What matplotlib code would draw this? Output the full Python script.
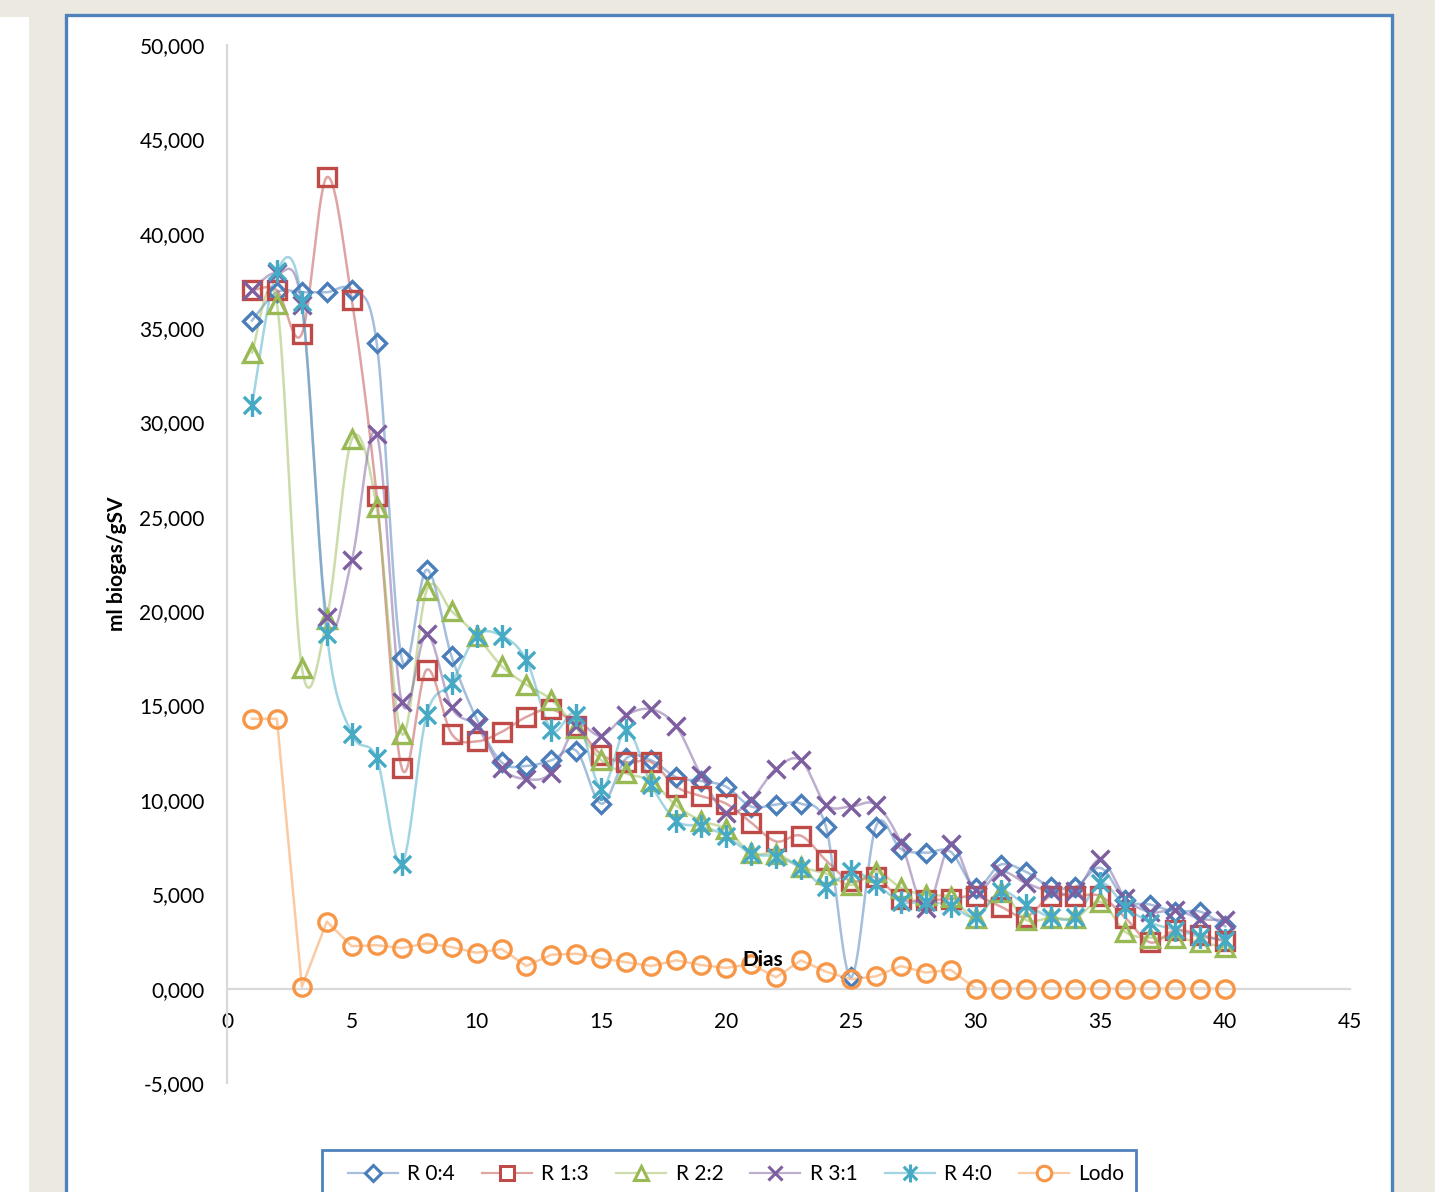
import numpy as np
import matplotlib
matplotlib.use("Agg")
import matplotlib.pyplot as plt
from matplotlib.path import Path
from matplotlib.patches import Rectangle
from matplotlib.lines import Line2D
from matplotlib.ticker import FixedLocator, FuncFormatter

plt.rcParams['font.family'] = ['Lato', 'DejaVu Sans']

# ---- data: daily biogas yield (ml biogas / gSV) ----
days = list(range(1, 41))

r_0_4 = [35400, 36900, 36900, 36900, 37000, 34200, 17500, 22200, 17600, 14300,
         12000, 11800, 12100, 12600, 9800, 12200, 12100, 11200, 11000, 10700,
         9650, 9750, 9800, 8580, 600, 8580, 7400, 7200, 7250, 5350,
         6570, 6200, 5400, 5400, 6400, 4700, 4450, 4080, 4080, 3300]

r_1_3 = [37000, 37000, 34700, 43000, 36500, 26100, 11700, 16900, 13500, 13100,
         13600, 14400, 14800, 13900, 12400, 12000, 12000, 10700, 10200, 9800,
         8800, 7800, 8100, 6800, 5700, 5900, 4750, 4700, 4750, 4900,
         4350, 3800, 4900, 4900, 4900, 3750, 2450, 3100, 2850, 2500]

r_2_2 = [33700, 36300, 17000, 19600, 29100, 25500, 13500, 21100, 20000, 18700,
         17100, 16100, 15300, 13800, 12100, 11400, 11000, 9700, 8900, 8450,
         7200, 7150, 6450, 6100, 5500, 6200, 5350, 4950, 4850, 3750,
         5100, 3650, 3750, 3750, 4600, 3000, 2700, 2700, 2450, 2200]

r_3_1 = [37000, 37900, 36200, 19700, 22700, 29400, 15200, 18800, 14900, 13900,
         11700, 11100, 11450, 13900, 13400, 14500, 14800, 13900, 11300, 9300,
         10000, 11650, 12100, 9750, 9650, 9750, 7750, 4250, 7650, 5200,
         6200, 5600, 5150, 5150, 6850, 4820, 4050, 4180, 3700, 3650]

r_4_0 = [30900, 38000, 36400, 18800, 13500, 12200, 6600, 14500, 16200, 18700,
         18700, 17400, 13700, 14500, 10600, 13700, 10800, 8900, 8600, 8100,
         7150, 7000, 6400, 5400, 6250, 5550, 4600, 4600, 4400, 3800,
         5150, 4450, 3800, 3800, 5600, 4350, 3500, 3130, 2760, 2600]

lodo = [14300, 14300, 100, 3550, 2250, 2300, 2150, 2400, 2200, 1900,
        2100, 1200, 1800, 1850, 1600, 1400, 1200, 1500, 1250, 1100,
        1300, 600, 1500, 900, 500, 650, 1200, 850, 1000, 0,
        0, 0, 0, 0, 0, 0, 0, 0, 0, 0]

series_names = ["R 0:4", "R 1:3", "R 2:2", "R 3:1", "R 4:0", "Lodo"]
x_ticks = [0, 5, 10, 15, 20, 25, 30, 35, 40, 45]
y_ticks = [-5000, 0, 5000, 10000, 15000, 20000, 25000, 30000, 35000, 40000, 45000, 50000]

# ---- styling ----
BEIGE = "#ECEAE0"
FRAME_BLUE = "#4F81BD"
colors = ["#4A7EBB", "#BE4B48", "#98B954", "#7D5FA0", "#46AAC5", "#F79646"]

star = Path([(0, -1), (0, 1), (-0.75, -0.75), (0.75, 0.75), (-0.75, 0.75), (0.75, -0.75)],
            [Path.MOVETO, Path.LINETO, Path.MOVETO, Path.LINETO, Path.MOVETO, Path.LINETO])
markers = ["D", "s", "^", "x", star, "o"]
msizes = [9.5, 12.5, 12.5, 12.5, 16.5, 12.5]
leg_msizes = [8, 10.5, 10.5, 10.5, 13, 10.5]
smooth_flags = [True, True, True, True, True, False]


def bezier_smooth(x, y, n=20):
    """Smoothed path through the points (cardinal Bezier, tension 1/6)."""
    x = np.asarray(x, float)
    y = np.asarray(y, float)
    px = np.concatenate([[x[0]], x, [x[-1]]])
    py = np.concatenate([[y[0]], y, [y[-1]]])
    t = np.linspace(0, 1, n + 1)[1:]
    xs, ys = [x[0]], [y[0]]
    for i in range(len(x) - 1):
        p0 = np.array([px[i], py[i]])
        p1 = np.array([px[i + 1], py[i + 1]])
        p2 = np.array([px[i + 2], py[i + 2]])
        p3 = np.array([px[i + 3], py[i + 3]])
        c1 = p1 + (p2 - p0) / 6.0
        c2 = p2 - (p3 - p1) / 6.0
        b = ((1 - t) ** 3)[:, None] * p1 + (3 * (1 - t) ** 2 * t)[:, None] * c1 \
            + (3 * (1 - t) * t ** 2)[:, None] * c2 + (t ** 3)[:, None] * p2
        xs.extend(b[:, 0])
        ys.extend(b[:, 1])
    return np.array(xs), np.array(ys)


fig = plt.figure(figsize=(14.35, 11.92), dpi=100, facecolor=BEIGE)

# page panels behind the chart
fig.add_artist(Rectangle((0, 0), 29 / 1435, 1 - 17 / 1192, transform=fig.transFigure,
                         facecolor="white", edgecolor="none", zorder=-3))
fig.add_artist(Rectangle((66 / 1435, -0.02), (1392 - 66) / 1435, 1 - 15 / 1192 + 0.02,
                         transform=fig.transFigure, facecolor="white",
                         edgecolor=FRAME_BLUE, linewidth=2.4, zorder=-2))

ax = fig.add_axes([227 / 1435, 1 - 1083 / 1192, (1350 - 227) / 1435, (1083 - 45) / 1192])
ax.set_facecolor("none")
ax.set_zorder(5)

all_series = [r_0_4, r_1_3, r_2_2, r_3_1, r_4_0, lodo]
for vals, name, col, mk, ms, sm in zip(all_series, series_names, colors, markers, msizes, smooth_flags):
    if sm:
        lx, ly = bezier_smooth(days, vals)
    else:
        lx, ly = np.asarray(days, float), np.asarray(vals, float)
    ax.plot(lx, ly, color=col, alpha=0.5, linewidth=1.8, zorder=2)
    ax.plot(days, vals, linestyle="none", marker=mk, markersize=ms,
            markerfacecolor="none", markeredgecolor=col, markeredgewidth=2.4, zorder=3)

ax.set_xlim(0, 45)
ax.set_ylim(-5000, 50000)
ax.xaxis.set_major_locator(FixedLocator(x_ticks))
ax.yaxis.set_major_locator(FixedLocator(y_ticks))


def fmt_thousands(v, pos=None):
    v = int(round(v))
    sign = "-" if v < 0 else ""
    v = abs(v)
    return f"{sign}{v // 1000},{v % 1000:03d}"


ax.yaxis.set_major_formatter(FuncFormatter(fmt_thousands))
ax.xaxis.set_major_formatter(FuncFormatter(lambda v, p: f"{int(v)}"))

for s in ["top", "right"]:
    ax.spines[s].set_visible(False)
ax.spines["bottom"].set_position(("data", 0))
for s in ["left", "bottom"]:
    ax.spines[s].set_color("#D9D9D9")
    ax.spines[s].set_linewidth(1.6)
ax.tick_params(axis="both", length=0, labelsize=15, colors="black")
ax.tick_params(axis="y", pad=16)
ax.tick_params(axis="x", pad=17)

ax.set_ylabel("ml biogas/gSV", fontsize=15, fontweight="bold")
ax.yaxis.set_label_coords(-0.089, 0.5)
ax.text(0.4773, 0.1185, "Dias", transform=ax.transAxes, fontsize=15,
        fontweight="bold", ha="center", va="center", zorder=4)

# legend in its own framed box at the foot of the chart
fig.add_artist(Rectangle((322 / 1435, -0.02), (1136 - 322) / 1435, 1 - 1150 / 1192 + 0.02,
                         transform=fig.transFigure, facecolor="white",
                         edgecolor=FRAME_BLUE, linewidth=2.0, zorder=-1))
handles = []
for name, col, mk, lms in zip(series_names, colors, markers, leg_msizes):
    light = np.array(matplotlib.colors.to_rgb(col)) * 0.5 + 0.5
    handles.append(Line2D([0], [0], color=light, linewidth=1.6,
                          marker=mk, markersize=lms, markerfacecolor="white",
                          markeredgecolor=col, markeredgewidth=2.2, label=name))
leg = fig.legend(handles=handles, loc="center", bbox_to_anchor=(736 / 1435, 1 - 1174 / 1192),
                 ncol=6, frameon=False, fontsize=15, handlelength=2.4,
                 handletextpad=0.45, columnspacing=1.3, borderpad=0)
leg.set_zorder(6)

fig.savefig("out.png", dpi=100, facecolor=BEIGE)
